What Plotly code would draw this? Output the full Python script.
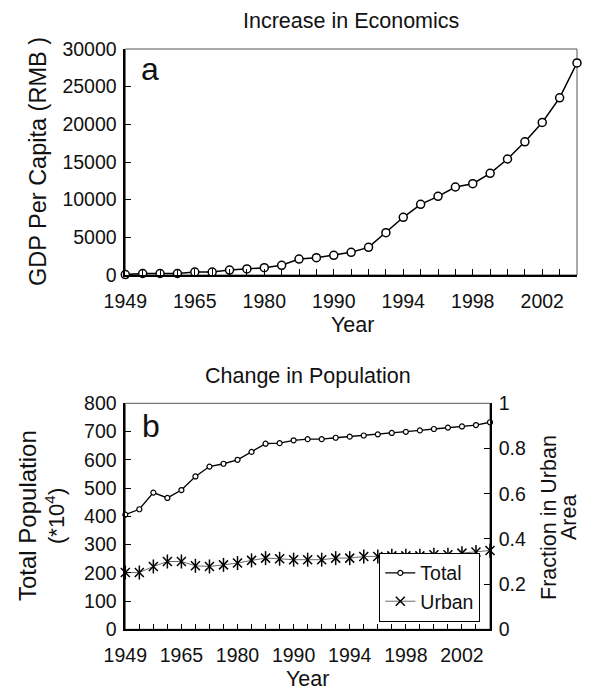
import plotly.graph_objects as go

# ---------------- data ----------------
years = ["1949", "1952", "1957", "1962", "1965", "1970", "1975", "1978", "1980",
         "1985", "1986", "1988", "1990", "1991", "1992", "1993", "1994", "1995",
         "1996", "1997", "1998", "1999", "2000", "2001", "2002", "2003", "2004"]
tick_labels = ["1949", "1965", "1980", "1990", "1994", "1998", "2002"]

gdp_per_capita = [50, 200, 200, 200, 400, 400, 660, 800, 970, 1290, 2120, 2300,
                  2610, 3010, 3670, 5620, 7660, 9380, 10440, 11680, 12120, 13500,
                  15400, 17680, 20250, 23520, 28150]

total_population = [406, 425, 484, 465, 493, 541, 576, 586, 600, 628, 657, 659,
                    669, 673, 673, 678, 682, 686, 690, 695, 699, 704, 709, 714,
                    718, 723, 733]

urban_fraction = [0.251, 0.251, 0.278, 0.300, 0.300, 0.281, 0.278, 0.285, 0.293,
                  0.305, 0.315, 0.312, 0.308, 0.308, 0.308, 0.315, 0.315, 0.322,
                  0.322, 0.325, 0.325, 0.325, 0.330, 0.330, 0.337, 0.342, 0.349]

# ---------------- layout helpers ----------------
W, H = 595, 692
FONT = "Liberation Sans, Arial, Helvetica, sans-serif"
INK = "#111111"


def fx(x):
    return x / W


def fy(y):
    return 1 - y / H


tick_text = [y if y in tick_labels else "" for y in years]

fig = go.Figure()

# top chart: GDP per capita
fig.add_trace(go.Scatter(
    x=years, y=gdp_per_capita, xaxis="x", yaxis="y", mode="lines+markers",
    line=dict(color="black", width=1.5),
    marker=dict(symbol="circle", size=8, color="white",
                line=dict(color="black", width=1.5)),
    cliponaxis=False, showlegend=False, name="GDP"))

# bottom chart: total population (left axis)
fig.add_trace(go.Scatter(
    x=years, y=total_population, xaxis="x2", yaxis="y2", mode="lines+markers",
    line=dict(color="black", width=1.3),
    marker=dict(symbol="circle", size=5, color="white",
                line=dict(color="black", width=1.2)),
    cliponaxis=False, name="Total"))

# bottom chart: urban fraction (right axis)
fig.add_trace(go.Scatter(
    x=years, y=urban_fraction, xaxis="x2", yaxis="y3", mode="lines+markers",
    line=dict(color="#444444", width=0.8),
    marker=dict(symbol="x-thin-open", size=9, color="black",
                line=dict(color="black", width=1.5)),
    cliponaxis=False, name="Urban"))
fig.add_trace(go.Scatter(
    x=years, y=urban_fraction, xaxis="x2", yaxis="y3", mode="markers",
    marker=dict(symbol="line-ns-open", size=10, color="black",
                line=dict(color="black", width=1.5)),
    cliponaxis=False, showlegend=False, name="Urban", hoverinfo="skip"))

tickfont = dict(family=FONT, size=19.5, color=INK)

xcommon = dict(type="category", range=[0, len(years) - 1], tickmode="array",
               tickvals=years, ticktext=tick_text, ticks="inside", ticklen=6,
               tickwidth=1, tickcolor="black", showline=True, linecolor="black",
               linewidth=1.5, showgrid=False, zeroline=False, tickfont=tickfont,
               automargin=False, ticklabelstandoff=8, tickangle=0)
ycommon = dict(ticks="inside", ticklen=6, tickwidth=1, tickcolor="black",
               showline=True, linecolor="black", linewidth=1.5, showgrid=False,
               zeroline=False, tickfont=tickfont, automargin=False,
               ticklabelstandoff=3, tickformat="d")

top_x = [125.3, 577]
top_y = [49, 275]
bot_x = [125.3, 490]
bot_y = [403.3, 629.3]

fig.update_layout(
    width=W, height=H, margin=dict(l=0, r=0, t=0, b=0),
    paper_bgcolor="white", plot_bgcolor="white",
    font=dict(family=FONT, color=INK),
    xaxis=dict(domain=[fx(top_x[0]), fx(top_x[1])], anchor="y", **xcommon),
    yaxis=dict(domain=[fy(top_y[1]), fy(top_y[0])], anchor="x",
               range=[0, 30000], dtick=5000, **ycommon),
    xaxis2=dict(domain=[fx(bot_x[0]), fx(bot_x[1])], anchor="y2", **xcommon),
    yaxis2=dict(domain=[fy(bot_y[1]), fy(bot_y[0])], anchor="x2",
                range=[0, 800], dtick=100, **ycommon),
    yaxis3=dict(overlaying="y2", side="right", anchor="x2",
                range=[0, 1], dtick=0.2, **{**ycommon, "tickformat": ""}),
    legend=dict(x=fx(480.3), y=fy(621.7), xanchor="right", yanchor="bottom",
                bgcolor="white", bordercolor="black", borderwidth=1,
                font=dict(family=FONT, size=19.5, color=INK),
                tracegroupgap=0, itemwidth=30),
)

# thin frame lines (top / right) around each plot
for xr, yr in (("x domain", "y domain"), ("x2 domain", "y2 domain")):
    fig.add_shape(type="rect", xref=xr, yref=yr, x0=0, x1=1, y0=0, y1=1,
                  line=dict(color="#555555", width=1), layer="below")


def label(text, x, y, size, angle=0):
    fig.add_annotation(text=text, x=fx(x), y=fy(y), xref="paper", yref="paper",
                       showarrow=False, xanchor="center", yanchor="middle",
                       textangle=angle, borderpad=0,
                       font=dict(family=FONT, size=size, color=INK))


label("Increase in Economics", 351, 21, 21.5)
label("GDP Per Capita (RMB )", 38, 162, 23.5, -90)
label("Year", 352, 325, 21.5)
label("a", 150, 69, 32)

label("Change in Population", 307.5, 376, 21.5)
label("Total Population", 27, 516, 24, -90)
label("(*10<sup>4</sup>)", 55, 516, 22, -90)
label("Fraction in Urban", 549, 518, 21.5, -90)
label("Area", 569, 518, 21.5, -90)
label("Year", 307.5, 679, 21.5)
label("b", 151, 426, 32)

fig.write_html("out.html", config={"displayModeBar": False},
               post_script="document.body.style.margin='0px';")
